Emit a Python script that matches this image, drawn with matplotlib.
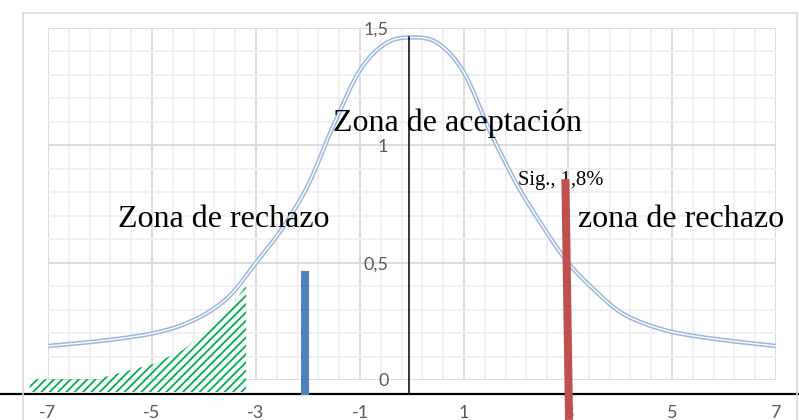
import numpy as np
import matplotlib
matplotlib.use("Agg")
import matplotlib.pyplot as plt
from matplotlib.lines import Line2D
from matplotlib.path import Path
from matplotlib.patches import PathPatch
from matplotlib.ticker import MultipleLocator

# curve, every 0.5
curve_x = [-7, -6.5, -6, -5.5, -5, -4.5, -4, -3.5, -3, -2.5, -2, -1.5, -1, -0.5, 0,
           0.5, 1, 1.5, 2, 2.5, 3, 3.5, 4, 4.5, 5, 5.5, 6, 6.5, 7]
curve_y = [0.145, 0.155, 0.166, 0.18, 0.198, 0.228, 0.278, 0.36, 0.5, 0.645, 0.83, 1.09, 1.32, 1.435, 1.46,
           1.435, 1.31, 1.06, 0.84, 0.66, 0.5, 0.385, 0.29, 0.238, 0.205, 0.185, 0.17, 0.157, 0.145]

# hatched rejection area (left tail)
area_x = [-7.35, -6.06, -5.62, -4.98, -4.40, -3.94, -3.56, -3.21, -3.19]
area_y = [0.004, 0.004, 0.03, 0.068, 0.128, 0.213, 0.29, 0.396, 0.396]
area_base = -0.051

# drawn marks on top of the chart
stat_x = -2.06
stat_top = 0.464
crit_x = [2.95, 3.02]
crit_y = [0.856, -0.17]

x_ticks = [-7, -5, -3, -1, 1, 3, 5, 7]
x_labels = ["-7", "-5", "-3", "-1", "1", "3", "5", "7"]
y_ticks = [0, 0.5, 1, 1.5]
y_labels = ["0", "0,5", "1", "1,5"]


def smooth_path(xs, ys):
    """Excel-like smoothed line: Catmull-Rom turned into cubic Bezier segments"""
    p = np.column_stack([xs, ys]).astype(float)
    p = np.vstack([p[0], p, p[-1]])
    verts = [p[1]]
    codes = [Path.MOVETO]
    for i in range(1, len(p) - 2):
        c1 = p[i] + (p[i + 1] - p[i - 1]) / 6
        c2 = p[i + 1] - (p[i + 2] - p[i]) / 6
        verts += [c1, c2, p[i + 1]]
        codes += [Path.CURVE4] * 3
    return Path(verts, codes)


W, H = 799, 420
fig = plt.figure(figsize=(W / 100, H / 100), dpi=100)
ax = fig.add_axes([48 / W, 40 / H, 728 / W, 352 / H])
ax.set_xlim(-7, 7)
ax.set_ylim(0, 1.5)

# grid like Excel
ax.yaxis.set_minor_locator(MultipleLocator(0.1))
ax.set_xticks(x_ticks)
ax.set_xticks(np.arange(-7, 7.01, 0.4), minor=True)
ax.grid(which="minor", color="#F0F0F0", lw=1.3)
ax.grid(which="major", color="#D9D9D9", lw=1.3)
ax.set_axisbelow(True)
for s in ax.spines.values():
    s.set_visible(False)

ax.set_xticklabels(x_labels)
ax.set_yticks(y_ticks)
ax.set_yticklabels(y_labels)
ax.spines["left"].set_position(("data", 0))
ax.tick_params(which="both", length=0)
ax.tick_params(axis="x", pad=18)
ax.tick_params(axis="y", pad=17)
for lab in ax.get_xticklabels() + ax.get_yticklabels():
    lab.set_fontfamily("Lato")
    lab.set_fontsize(13)
    lab.set_color("#595959")

# double line curve
path = smooth_path(curve_x, curve_y)
ax.add_patch(PathPatch(path, fill=False, edgecolor="#9BB7DE", lw=3.2, joinstyle="round", zorder=3))
ax.add_patch(PathPatch(path, fill=False, edgecolor="white", lw=1.0, joinstyle="round", zorder=3))

# hatched area
plt.rcParams["hatch.linewidth"] = 1.3
ax.fill_between(area_x, area_base, area_y, facecolor="none", edgecolor="#00B050",
                hatch="////", lw=0, clip_on=False, zorder=2)

# overlay shapes
ax.plot([-7.95, 7.5], [-0.06, -0.06], color="black", lw=1.6, clip_on=False, zorder=5)
ax.plot([-0.06, -0.06], [1.46, -0.06], color="black", lw=1.1, clip_on=False, zorder=5)
ax.plot([stat_x, stat_x], [stat_top, -0.064], color="#4F81BD", lw=5.8,
        solid_capstyle="butt", clip_on=False, zorder=6)

serif = "Liberation Serif"
ax.text(-1.52, 1.06, "Zona de aceptación", fontfamily=serif, fontsize=23, zorder=7)
ax.text(-5.65, 0.65, "Zona de rechazo", fontfamily=serif, fontsize=23, zorder=7)
ax.text(3.19, 0.65, "zona de rechazo", fontfamily=serif, fontsize=23, zorder=7)
ax.text(2.04, 0.83, "Sig., 1,8%", fontfamily=serif, fontsize=14.8, zorder=7)

ax.plot(crit_x, crit_y, color="#C0504D", lw=5.8, solid_capstyle="butt",
        clip_on=False, zorder=8)

# chart outer border
for xs, ys in [([23, 23], [13, 420]), ([23, 797], [13, 13]), ([797, 797], [13, 420])]:
    fig.add_artist(Line2D([x / W for x in xs], [1 - y / H for y in ys],
                          color="#D9D9D9", lw=1.2))

fig.savefig("out.png", dpi=100)
